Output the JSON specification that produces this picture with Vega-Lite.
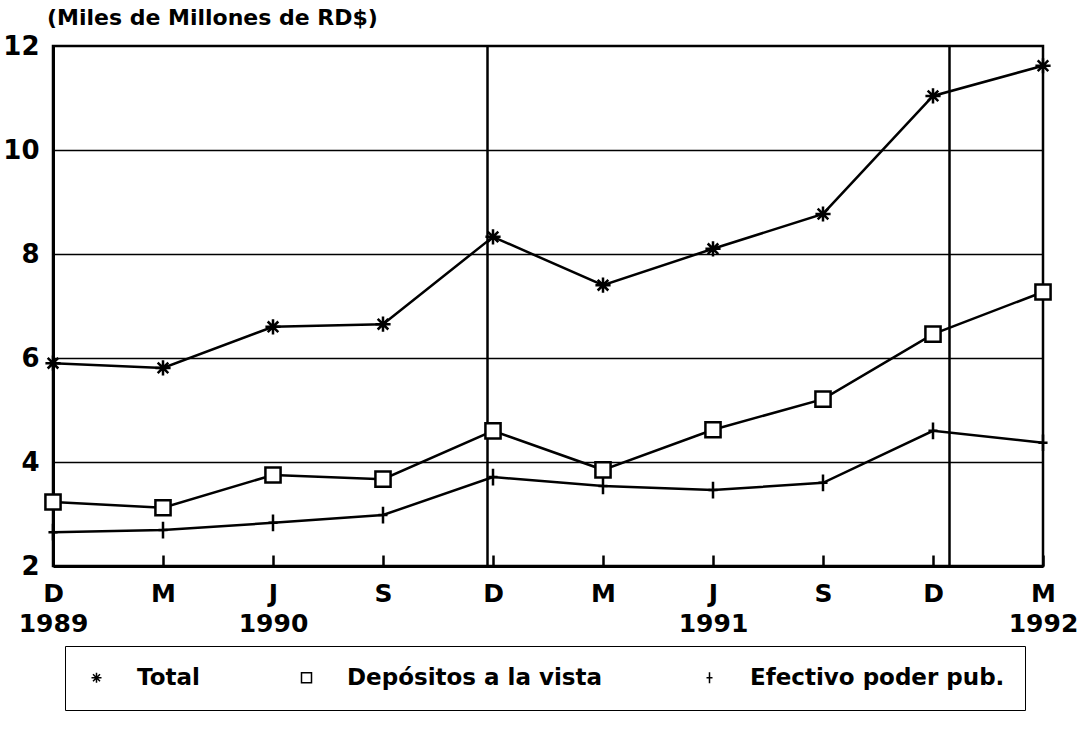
{
  "$schema": "https://vega.github.io/schema/vega-lite/v6.json",
  "width": 990,
  "height": 520,
  "autosize": "none",
  "padding": {"left": 53, "top": 46, "right": 46, "bottom": 165},
  "background": "white",
  "config": {"font": "DejaVu Sans", "view": {"stroke": "black", "strokeWidth": 2.5}},
  "title": {"text": "(Miles de Millones de RD$)", "anchor": "start", "frame": "group", "fontSize": 22, "fontWeight": "bold", "color": "black", "dx": -6, "offset": 3},
  "data": {"values": [
    {"i": 0, "serie": "Total", "v": 5.90},
    {"i": 1, "serie": "Total", "v": 5.81},
    {"i": 2, "serie": "Total", "v": 6.60},
    {"i": 3, "serie": "Total", "v": 6.65},
    {"i": 4, "serie": "Total", "v": 8.33},
    {"i": 5, "serie": "Total", "v": 7.40},
    {"i": 6, "serie": "Total", "v": 8.10},
    {"i": 7, "serie": "Total", "v": 8.77},
    {"i": 8, "serie": "Total", "v": 11.04},
    {"i": 9, "serie": "Total", "v": 11.62},
    {"i": 0, "serie": "Depósitos a la vista", "v": 3.23},
    {"i": 1, "serie": "Depósitos a la vista", "v": 3.12},
    {"i": 2, "serie": "Depósitos a la vista", "v": 3.75},
    {"i": 3, "serie": "Depósitos a la vista", "v": 3.67},
    {"i": 4, "serie": "Depósitos a la vista", "v": 4.60},
    {"i": 5, "serie": "Depósitos a la vista", "v": 3.85},
    {"i": 6, "serie": "Depósitos a la vista", "v": 4.62},
    {"i": 7, "serie": "Depósitos a la vista", "v": 5.21},
    {"i": 8, "serie": "Depósitos a la vista", "v": 6.46},
    {"i": 9, "serie": "Depósitos a la vista", "v": 7.27},
    {"i": 0, "serie": "Efectivo poder pub.", "v": 2.65},
    {"i": 1, "serie": "Efectivo poder pub.", "v": 2.69},
    {"i": 2, "serie": "Efectivo poder pub.", "v": 2.83},
    {"i": 3, "serie": "Efectivo poder pub.", "v": 2.98},
    {"i": 4, "serie": "Efectivo poder pub.", "v": 3.71},
    {"i": 5, "serie": "Efectivo poder pub.", "v": 3.54},
    {"i": 6, "serie": "Efectivo poder pub.", "v": 3.46},
    {"i": 7, "serie": "Efectivo poder pub.", "v": 3.60},
    {"i": 8, "serie": "Efectivo poder pub.", "v": 4.60},
    {"i": 9, "serie": "Efectivo poder pub.", "v": 4.37}
  ]},
  "layer": [
    {
      "data": {"values": [{"x": 3.95}, {"x": 8.15}]},
      "mark": {"type": "rule", "color": "black", "strokeWidth": 2.5},
      "encoding": {
        "x": {"field": "x", "type": "quantitative", "scale": {"domain": [0, 9], "nice": false, "zero": false}}
      }
    },
    {
      "mark": {"type": "line", "color": "black", "strokeWidth": 2.5},
      "encoding": {
        "x": {"field": "i", "type": "quantitative", "scale": {"domain": [0, 9], "nice": false, "zero": false},
          "axis": {"values": [0,1,2,3,4,5,6,7,8,9], "title": null, "grid": false,
            "labelExpr": "[['D','1989'],['M',''],['J','1990'],['S',''],['D',''],['M',''],['J','1991'],['S',''],['D',''],['M','1992']][datum.value]",
            "domainWidth": 3, "domainColor": "black", "tickSize": -11, "tickWidth": 2.5, "tickColor": "black",
            "labelFontSize": 25, "labelFontWeight": "bold", "labelColor": "black", "labelLineHeight": 30,
            "labelPadding": 26, "labelFlush": false, "labelOverlap": false, "labelBound": false}},
        "y": {"field": "v", "type": "quantitative", "scale": {"domain": [2, 12], "nice": false, "zero": false},
          "axis": {"values": [2,4,6,8,10,12], "title": null, "ticks": false, "grid": true, "gridColor": "black", "gridWidth": 1.5,
            "gridOpacity": {"condition": {"test": "datum.value == 2 || datum.value == 12", "value": 0}, "value": 1},
            "domainWidth": 3, "domainColor": "black", "labelFontSize": 26, "labelFontWeight": "bold", "labelColor": "black", "labelPadding": 14}},
        "detail": {"field": "serie"}
      }
    },
    {
      "mark": {"type": "point", "size": 230, "strokeWidth": 2.5, "color": "black", "fill": "white", "filled": false, "opacity": 1},
      "encoding": {
        "x": {"field": "i", "type": "quantitative"},
        "y": {"field": "v", "type": "quantitative"},
        "shape": {"field": "serie", "type": "nominal",
          "scale": {"domain": ["Total", "Depósitos a la vista", "Efectivo poder pub."],
            "range": ["M0,-1L0,1M-1,0L1,0M-0.7,-0.7L0.7,0.7M-0.7,0.7L0.7,-0.7", "square", "M0,-1.1L0,1.1M-0.6,0L0.6,0"]},
          "legend": {"title": null, "orient": "none", "legendX": 12, "legendY": 600, "direction": "horizontal",
            "labelFontSize": 23, "labelFontWeight": "bold", "labelColor": "black", "labelLimit": 500,
            "labelOffset": 29, "columnPadding": 95, "padding": 20, "strokeColor": "black"
          }}
      }
    }
  ]
}
